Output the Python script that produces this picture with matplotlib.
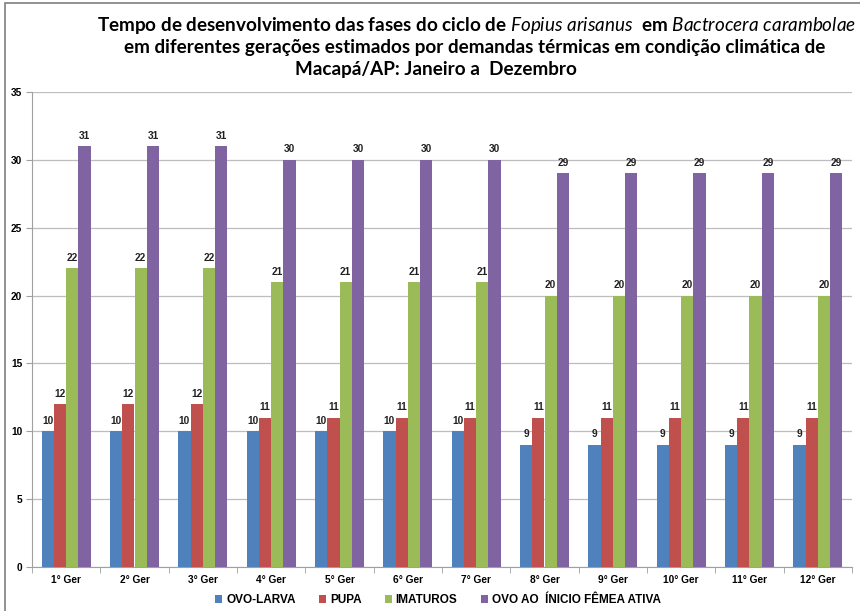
import matplotlib
matplotlib.use("Agg")
import matplotlib.pyplot as plt
import numpy as np
from matplotlib.patches import Rectangle

categories = ["1° Ger", "2° Ger", "3° Ger", "4° Ger", "5° Ger", "6° Ger",
              "7° Ger", "8° Ger", "9° Ger", "10° Ger", "11° Ger", "12° Ger"]
ovo_larva = [10, 10, 10, 10, 10, 10, 10, 9, 9, 9, 9, 9]
pupa = [12, 12, 12, 11, 11, 11, 11, 11, 11, 11, 11, 11]
imaturos = [22, 22, 22, 21, 21, 21, 21, 20, 20, 20, 20, 20]
ovo_femea = [31, 31, 31, 30, 30, 30, 30, 29, 29, 29, 29, 29]
series_names = ["OVO-LARVA", "PUPA", "IMATUROS", "OVO AO  ÍNICIO FÊMEA ATIVA"]
colors = ["#4F81BD", "#C0504D", "#9BBB59", "#8064A2"]
yticks = [0, 5, 10, 15, 20, 25, 30, 35]

plt.rcParams['mathtext.fontset'] = 'custom'
plt.rcParams['mathtext.it'] = 'Lato:italic'
plt.rcParams['mathtext.rm'] = 'Lato'

fig = plt.figure(figsize=(8.6, 6.11), dpi=100)
ax = fig.add_axes([32/860, 1-567/611, (852-32)/860, (567-92)/611])

x = np.arange(len(categories))
w = 0.18
series = [ovo_larva, pupa, imaturos, ovo_femea]
for i, (vals, c, name) in enumerate(zip(series, colors, series_names)):
    pos = x + (i - 1.5) * w
    ax.bar(pos, vals, w, color=c, label=name, zorder=3)
    for p, v in zip(pos, vals):
        ax.text(p, v + 0.4, str(v), ha='center', va='bottom', fontsize=7.3,
                fontweight='bold', family='Liberation Sans', color='#222222')

ax.set_xlim(-0.5, len(categories) - 0.5)
ax.set_ylim(0, 35)
ax.set_yticks(yticks)
ax.set_yticklabels([str(t) for t in yticks], fontsize=7.3, fontweight='bold',
                   family='Liberation Sans')
ax.set_xticks(x)
ax.set_xticklabels(categories, fontsize=7.3, fontweight='bold', family='Liberation Sans')
ax.set_xticks(np.arange(-0.5, len(categories)), minor=True)
ax.tick_params(axis='x', which='major', length=0, pad=6)
ax.tick_params(axis='x', which='minor', length=4, color='#A0A0A0')
ax.tick_params(axis='y', length=4, color='#A0A0A0', pad=3)
ax.yaxis.grid(True, color='#BDBDBD', linewidth=0.9, zorder=0)
ax.set_axisbelow(True)
for s in ['top', 'right']:
    ax.spines[s].set_visible(False)
for s in ['left', 'bottom']:
    ax.spines[s].set_color('#A0A0A0')

tfs = 13.6
fig.text(476/860, 1-25/611,
         r"Tempo de desenvolvimento das fases do ciclo de $\mathit{Fopius\ arisanus}$  em $\mathit{Bactrocera\ carambolae}$",
         ha='center', va='center', fontsize=tfs, fontweight='bold', family='Lato')
fig.text(475/860, 1-47/611,
         "em diferentes gerações estimados por demandas térmicas em condição climática de",
         ha='center', va='center', fontsize=tfs, fontweight='bold', family='Lato')
fig.text(436/860, 1-70/611, "Macapá/AP: Janeiro a  Dezembro",
         ha='center', va='center', fontsize=tfs, fontweight='bold', family='Lato')

fig.legend(loc='center', bbox_to_anchor=(438/860, 1-600/611), ncol=4, frameon=False,
           prop={'family': 'Liberation Sans', 'weight': 'bold', 'size': 8.5},
           handlelength=0.6, handleheight=0.6, handletextpad=0.3, columnspacing=2.0)

fig.add_artist(Rectangle((5/860, -0.1), 1.2, 1 - 3/611 + 0.1, transform=fig.transFigure,
                         fill=False, edgecolor='#7F7F7F', linewidth=1.2))

fig.savefig("out.png", dpi=100)
